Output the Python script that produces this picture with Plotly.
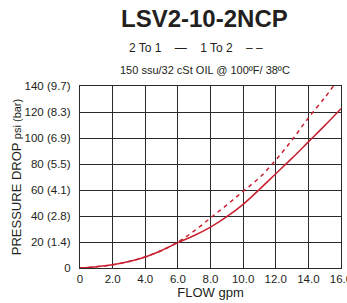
import plotly.graph_objects as go

flow_2to1 = [0, 0.5, 1, 2, 3, 4, 5, 6, 7, 8, 9, 10, 11, 12, 13, 14, 15, 16]
psi_2to1 = [0, 0.3, 1, 2.5, 5, 8.5, 13.5, 19.5, 25, 31.5, 39.5, 49, 60.5, 72.5, 84.5, 97, 109.5, 122.5]

flow_1to2 = [0, 0.5, 1, 2, 3, 4, 5, 6, 7, 8, 9, 10, 11, 12, 13, 14, 15, 15.54]
psi_1to2 = [0, 0.3, 1, 2.5, 5, 8.5, 13.5, 20, 28.5, 38.5, 48.5, 59, 69.5, 83, 98.5, 115.5, 131, 140]

x_ticks = [0, 2, 4, 6, 8, 10, 12, 14, 16]
x_ticktext = ["0", "2.0", "4.0", "6.0", "8.0", "10.0", "12.0", "14.0", "16.0"]
y_ticks = [0, 20, 40, 60, 80, 100, 120, 140]
y_ticktext = ["0", "20 (1.4)", "40 (2.8)", "60 (4.1)", "80 (5.5)", "100 (6.9)", "120 (8.3)", "140 (9.7)"]

RED = "#c8202f"
TXT = "#231f20"
GRID = "#2a2a2a"
FONT = "Liberation Sans, Arial, sans-serif"

fig = go.Figure()
fig.add_trace(go.Scatter(x=flow_2to1, y=psi_2to1, mode="lines", name="2 To 1",
                         line=dict(color=RED, width=1.5, shape="spline"), showlegend=False))
fig.add_trace(go.Scatter(x=flow_1to2, y=psi_1to2, mode="lines", name="1 To 2",
                         line=dict(color=RED, width=1.5, dash="4px,4px", shape="spline"), showlegend=False))

fig.update_layout(
    width=347, height=303,
    margin=dict(l=80, r=6, t=86, b=35),
    paper_bgcolor="white", plot_bgcolor="white",
    font=dict(family=FONT, color=TXT, size=11),
    xaxis=dict(range=[0, 16], tickvals=x_ticks, ticktext=x_ticktext, automargin=False,
               showgrid=True, gridcolor=GRID, gridwidth=1.2,
               showline=True, linecolor=GRID, linewidth=1.2, mirror=True,
               zeroline=False, ticks="", tickfont=dict(size=11.5, color=TXT),
               ticklabeloverflow="allow",
               title=dict(text="FLOW gpm", font=dict(size=13, color=TXT), standoff=2)),
    yaxis=dict(range=[0, 140], tickvals=y_ticks, ticktext=y_ticktext, automargin=False,
               showgrid=True, gridcolor=GRID, gridwidth=1.2,
               showline=True, linecolor=GRID, linewidth=1.2, mirror=True,
               zeroline=False, ticks="", tickfont=dict(size=11.5, color=TXT),
               ticklabelstandoff=6, ticklabeloverflow="allow",
               title=dict(text="PRESSURE DROP <span style='font-size:11px'>psi (bar)</span>",
                          font=dict(size=13, color=TXT), standoff=0)),
    annotations=[
        dict(text="<b>LSV2-10-2NCP</b>", x=204, y=18,
             showarrow=False, font=dict(size=24, color=TXT, family=FONT)),
        dict(text="2 To 1    \u2014    1 To 2    \u2013 \u2013", x=196, y=48,
             showarrow=False, font=dict(size=12, color=TXT, family=FONT)),
        dict(text="150 ssu/32 cSt OIL @ 100\u00baF/ 38\u00baC", x=205, y=70,
             showarrow=False, font=dict(size=11, color=TXT, family=FONT)),
    ],
)

# convert annotation pixel positions to paper coords
pw = 347 - 80 - 6
ph = 303 - 86 - 35
for a in fig.layout.annotations:
    px, py = a.x, a.y
    a.xref = "paper"; a.yref = "paper"
    a.x = (px - 80) / pw
    a.y = (303 - 35 - py) / ph
    a.xanchor = "center"; a.yanchor = "middle"

fig.write_html("out.html", config={"displayModeBar": False},
               post_script="document.body.style.margin='0';document.body.style.overflow='hidden';")
